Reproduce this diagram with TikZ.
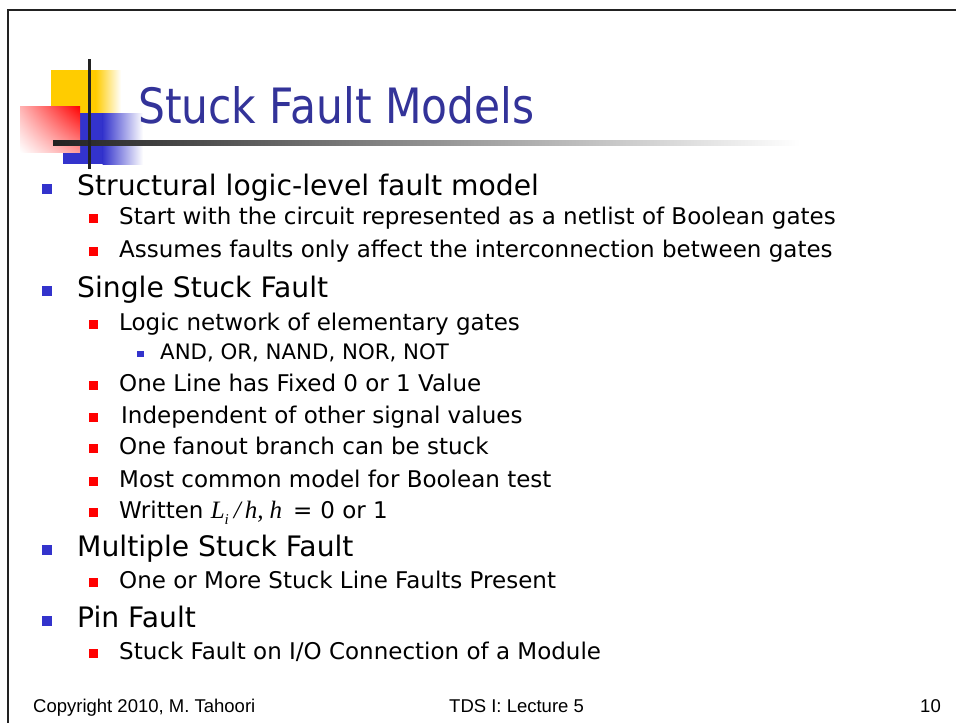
\documentclass[tikz,border=0pt]{standalone}
\usepackage{fontspec}
\usetikzlibrary{shadings}
\setmainfont{DejaVu Sans}
\newfontfamily\titlefont{DejaVu Sans}[FakeStretch=0.87]
\newfontfamily\footfont{Liberation Sans}
\newfontfamily\varfont{Liberation Serif}
\newcommand{\var}[1]{{\varfont\itshape\fontsize{25}{25}\selectfont #1}}

\definecolor{titleblue}{RGB}{51,51,153}
\definecolor{bulletblue}{RGB}{51,51,204}
\definecolor{bulletred}{RGB}{255,0,0}
\definecolor{logoyellow}{RGB}{255,204,0}
\definecolor{logoblue}{RGB}{51,51,204}
\definecolor{rulegray}{RGB}{34,34,34}

\tikzset{
  titletext/.style={anchor=base west, inner sep=0pt, text=titleblue,
    font=\titlefont\fontsize{48.7}{52}\selectfont},
  lvlone/.style={anchor=base west, inner sep=0pt,
    font=\fontsize{28.2}{30}\selectfont},
  lvltwo/.style={anchor=base west, inner sep=0pt,
    font=\fontsize{23}{25}\selectfont},
  lvlthree/.style={anchor=base west, inner sep=0pt,
    font=\fontsize{21.3}{23}\selectfont},
  foottext/.style={anchor=base west, inner sep=0pt,
    font=\footfont\fontsize{18.5}{20}\selectfont},
}

% one bulleted line per level: node name, baseline y, text
\newcommand{\itemone}[3]{%
  \fill[bulletblue] (42,#2-1) rectangle (52,#2-11);
  \node[lvlone] (#1) at (77,#2) {#3};}
\newcommand{\itemtwo}[3]{%
  \fill[bulletred] (89,#2-1) rectangle (98,#2-10);
  \node[lvltwo] (#1) at (119,#2) {#3};}
\newcommand{\itemthree}[3]{%
  \fill[bulletblue] (137,#2-2) rectangle (144,#2-8);
  \node[lvlthree] (#1) at (160,#2) {#3};}

\begin{document}
\begin{tikzpicture}[x=1pt,y=-1pt]
  \useasboundingbox (0,0) rectangle (956,723);
  \fill[white] (0,0) rectangle (956,723);

  % slide frame
  \draw[line width=2pt, rulegray] (8,723) -- (8,10) -- (957,10);

  % logo: yellow, blue and red squares fading out
  \fill[logoyellow] (51,70) rectangle (96,113);
  \shade[left color=logoyellow, right color=white] (95.5,70) rectangle (121,113);
  \fill[logoblue] (63,113) rectangle (103,164);
  \shade[left color=logoblue, right color=white] (102.5,113) rectangle (143,164);
  \shade[upper right=red, upper left=red!30, lower right=red!40, lower left=white]
    (20,106) rectangle (80,152);

  % title rule and cross bar
  \shade[left color=rulegray, right color=white] (53,140.5) rectangle (800,145.5);
  \fill[rulegray] (87.5,59) rectangle (91,169);

  \node[titletext] (title) at (138,123) {Stuck Fault Models};

  \itemone{structural}{195}{Structural logic-level fault model}
  \itemtwo{netlist}{224}{Start with the circuit represented as a netlist of Boolean gates}
  \itemtwo{interconn}{257}{Assumes faults only affect the interconnection between gates}
  \itemone{single}{297}{Single Stuck Fault}
  \itemtwo{network}{330}{Logic network of elementary gates}
  \itemthree{gates}{359}{AND, OR, NAND, NOR, NOT}
  \itemtwo{fixed}{391}{One Line has Fixed 0 or 1 Value}
  \itemtwo{independent}{423}{\hspace{2pt}Independent of other signal values}
  \itemtwo{fanout}{454}{One fanout branch can be stuck}
  \itemtwo{common}{487}{Most common model for Boolean test}
  \itemtwo{written}{518}{Written \var{L\raisebox{-6pt}{\fontsize{15}{15}\selectfont i}\hspace{5pt}/\hspace{4pt}h,\hspace{6pt}h}\hspace{11pt}=\hspace{8pt}0 or 1}
  \itemone{multiple}{556}{Multiple Stuck Fault}
  \itemtwo{more}{588}{One or More Stuck Line Faults Present}
  \itemone{pin}{627}{Pin Fault}
  \itemtwo{module}{659}{Stuck Fault on I/O Connection of a Module}

  % footer
  \node[foottext] (copyright) at (33,712) {Copyright 2010, M. Tahoori};
  \node[foottext] (lecture) at (449,712) {TDS I: Lecture 5};
  \node[foottext, anchor=base east] (page) at (941,712) {10};
\end{tikzpicture}
\end{document}
